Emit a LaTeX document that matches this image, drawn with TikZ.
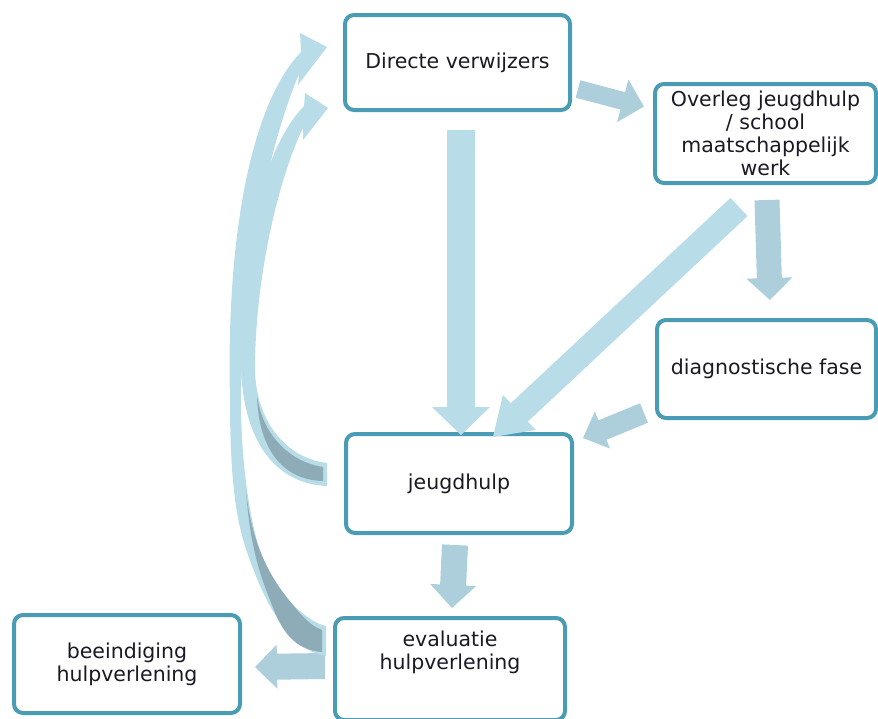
\documentclass[tikz,border=0pt]{standalone}
\usepackage{fontspec}
\setmainfont{DejaVu Sans}
\usetikzlibrary{calc}
\definecolor{boxblue}{HTML}{4A9CB4}
\definecolor{arrowlight}{HTML}{B8DDE8}
\definecolor{arrowgrey}{HTML}{ADCFDC}
\definecolor{arrowdark}{HTML}{8EACB7}
\definecolor{textblack}{HTML}{1A1A24}
\newcommand{\boxfont}{\fontsize{20.5}{23}\selectfont}
\tikzstyle{box}=[draw=boxblue, line width=4pt, rounded corners=9pt, fill=white, align=center, font=\boxfont, text=textblack, inner sep=2pt]
% fat arrow: [colour]{tail}{tip}{half shaft}{half head}{head length}
\newcommand{\fatarrow}[6][arrowgrey]{%
    \coordinate (fa-t) at (#2);
    \coordinate (fa-h) at (#3);
    \coordinate (fa-b) at ($(fa-h)!#6!(fa-t)$);
    \fill[#1] ($(fa-t)!#4!90:(fa-h)$) -- ($(fa-b)!#4!90:(fa-h)$) -- ($(fa-b)!#5!90:(fa-h)$) -- (fa-h)
        -- ($(fa-b)!#5!-90:(fa-h)$) -- ($(fa-b)!#4!-90:(fa-h)$) -- ($(fa-t)!#4!-90:(fa-h)$) -- cycle;
}

\begin{document}
\begin{tikzpicture}[x=1pt, y=-1pt]
    \useasboundingbox (0,0) rectangle (878,718);
% Boxes
    \node[box, minimum width=225pt, minimum height=95pt] (direct) at (457.5,62.5) {Directe verwijzers};
    \node[box, minimum width=221pt, minimum height=99pt] (overleg) at (765.5,133.5) {Overleg jeugdhulp\\/ school\\maatschappelijk\\werk};
    \node[box, minimum width=219pt, minimum height=98pt] (diag) at (766.5,369) {diagnostische fase};
    \node[box, minimum width=226pt, minimum height=99pt] (jeugd) at (459,483.5) {jeugdhulp};
    \node[box, minimum width=230pt, minimum height=102pt,
        label={[font=\boxfont, text=textblack, align=center, yshift=17pt]center:evaluatie\\hulpverlening}] (eval) at (450,669) {};
    \node[box, minimum width=226pt, minimum height=98pt] (stop) at (127,664) {beeindiging\\hulpverlening};
% Straight arrows
    \fatarrow{[shift={(6,26.5)}]direct.east}{[shift={(-9,-27)}]overleg.west}{9pt}{22pt}{22pt}
    \fatarrow[arrowlight]{[shift={(3.5,18)}]direct.south}{[shift={(2,3)}]jeugd.north}{14pt}{29pt}{28pt}
    \fatarrow[arrowlight]{[shift={(-26.5,22)}]overleg.south}{[shift={(34,5)}]jeugd.north}{12.5pt}{24pt}{36pt}
    \fatarrow{[shift={(1.5,15)}]overleg.south}{[shift={(3.5,-18)}]diag.north}{12.5pt}{23pt}{22pt}
    \fatarrow{[shift={(-11,-7)}]diag.south west}{[shift={(9,6)}]jeugd.north east}{10.5pt}{20pt}{21pt}
    \fatarrow{[shift={(-4,10)}]jeugd.south}{[shift={(2,-8)}]eval.north}{13pt}{23pt}{23pt}
    \fatarrow{[shift={(-8,-3)}]eval.west}{[shift={(13,3)}]stop.east}{13pt}{22pt}{22pt}
% Curved arrow from evaluatie back up
    \fill[arrowlight] ([shift={(-16,-15.5)}]direct.west) -- (300,33) -- (301,52)
        .. controls (250,105) and (226,240) .. (230,400)
        .. controls (230,480) and (236,520) .. (247,552)
        .. controls (260,590) and (285,650) .. ([shift={(-7,-13)}]eval.west)
        -- ([shift={(-7,-43)}]eval.west)
        .. controls (308,622) and (285,600) .. (270,575)
        .. controls (255,550) and (241,480) .. (241,400)
        .. controls (243,250) and (275,130) .. (299,74)
        -- (298,85) -- cycle;
    \fill[arrowdark] (246,490) .. controls (250,530) and (262,565) .. (285,595) .. controls (298,612) and (310,626) .. (322,630)
        -- (322,652) .. controls (295,650) and (282,632) .. (272,605) .. controls (262,580) and (250,550) .. (246,490) -- cycle;
% Curved arrow from jeugdhulp back up
    \fill[arrowlight] ([shift={(-15,45.5)}]direct.west) -- (305,93) -- (304,106)
        .. controls (262,150) and (240,250) .. (241,360)
        .. controls (241,440) and (275,484) .. ([shift={(-17,2.5)}]jeugd.west)
        -- ([shift={(-17,-20.5)}]jeugd.west)
        .. controls (285,458) and (256,420) .. (255,370)
        .. controls (255,270) and (282,170) .. (303,128)
        -- (303,140) -- cycle;
    \fill[arrowdark] (257,395) .. controls (262,435) and (290,462) .. (323,467)
        -- (323,481) .. controls (280,480) and (258,445) .. (257,395) -- cycle;
\end{tikzpicture}
\end{document}
